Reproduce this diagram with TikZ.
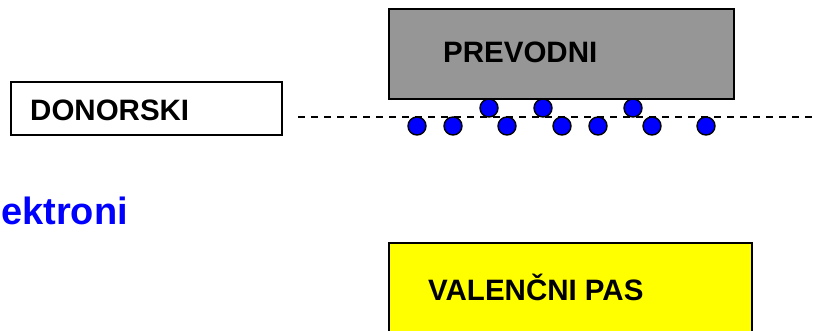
\documentclass[tikz,border=0pt]{standalone}
\usepackage{fontspec}
\setmainfont{Liberation Sans}
\usetikzlibrary{positioning}
\definecolor{condgray}{RGB}{150,150,150}
\definecolor{valyellow}{RGB}{255,255,0}
\definecolor{eblue}{RGB}{0,0,255}
\tikzset{
  band/.style={
    rectangle, draw=black, line width=1.8pt, fill=#1,
    anchor=north west, inner sep=0pt, outer sep=0pt
  },
  bandlabel/.style={
    anchor=base west, inner sep=0pt, font=\fontsize{29.5}{32}\selectfont\bfseries
  },
  electron/.style={
    circle, draw=black, line width=1.4pt, fill=eblue,
    minimum size=18pt, inner sep=0pt
  },
  level/.style={
    line width=1.4pt, dash pattern=on 7pt off 6pt
  }
}

\begin{document}
\begin{tikzpicture}[x=1pt, y=-1pt]

  \useasboundingbox (0,0) rectangle (813,331);
  \clip (0,0) rectangle (813,331);

  % Bands
  \node[band=condgray, minimum width=345pt, minimum height=90pt] (cond) at (389,9) {};
  \node[band=white, minimum width=271pt, minimum height=53pt] (donor) at (11,82) {};
  \node[band=valyellow, minimum width=363pt, minimum height=120pt] (val) at (389,243) {};

  % Band labels
  \node[bandlabel] (condlbl) at (443,63) {PREVODNI};
  \node[bandlabel] (donorlbl) at (30,121) {DONORSKI};
  \node[bandlabel] (vallbl) at (428,300) {VALENČNI PAS};

  % Donor level
  \coordinate (lvlL) at (298,117);
  \coordinate (lvlR) at (813,117);
  \draw[level] (lvlL) -- (lvlR);

  % Electrons
  \foreach \x [count=\i] in {417,453,507,562,598,652,706}
    \node[electron] (lo\i) at (\x,126) {};
  \foreach \x [count=\i] in {489,543,633}
    \node[electron] (up\i) at (\x,108) {};

  % Title
  \node[anchor=base west, inner sep=0pt, text=eblue,
        font=\fontsize{38}{40}\selectfont\bfseries] (title) at (1,224) {ektroni};

\end{tikzpicture}
\end{document}
